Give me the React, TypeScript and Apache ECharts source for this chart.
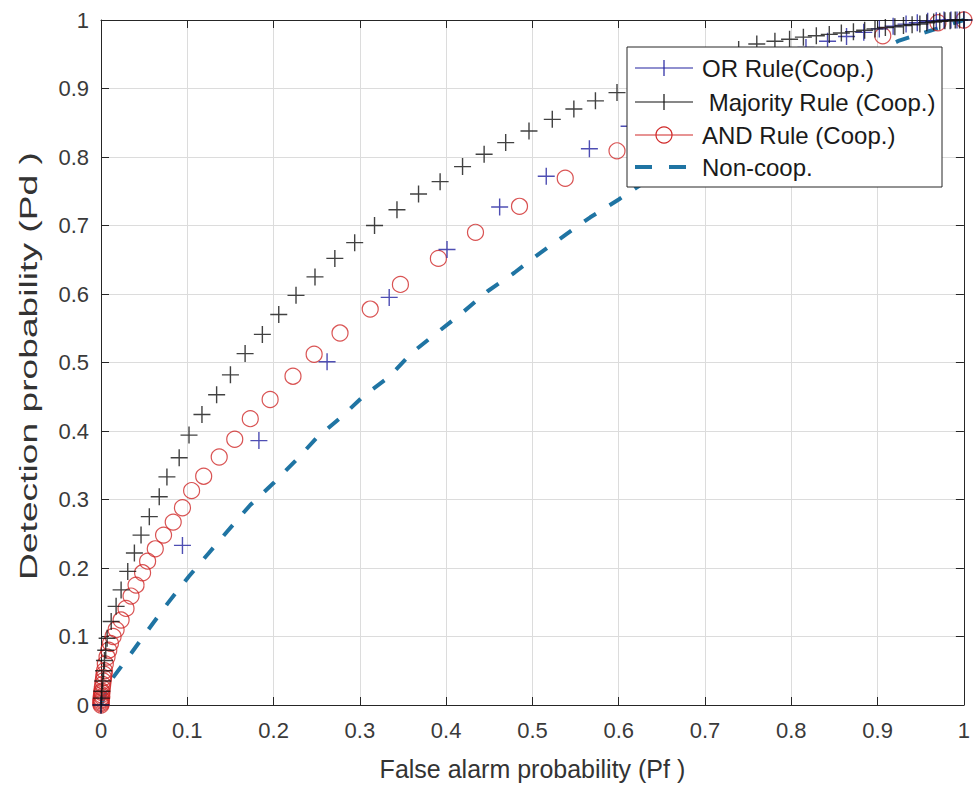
import React, { useEffect, useRef } from "react";
import * as echarts from "echarts";

const xTicks = [0, 0.1, 0.2, 0.3, 0.4, 0.5, 0.6, 0.7, 0.8, 0.9, 1];
const yTicks = [0, 0.1, 0.2, 0.3, 0.4, 0.5, 0.6, 0.7, 0.8, 0.9, 1];

const xTitle = "False alarm probability (Pf )";
const yTitle = "Detection probability (Pd )";
const legendNames = ["OR Rule(Coop.)", " Majority Rule (Coop.)", "AND Rule (Coop.)", "Non-coop."];

// OR rule (cooperative) [Pf, Pd]
const orRule: [number, number][] = [
  [0, 0], [0.0944, 0.233], [0.183, 0.386], [0.262, 0.501], [0.334, 0.595], [0.401, 0.665],
  [0.462, 0.727], [0.516, 0.772], [0.566, 0.812], [0.612, 0.845], [0.654, 0.873], [0.693, 0.897],
  [0.728, 0.917], [0.761, 0.934], [0.79, 0.948], [0.817, 0.96], [0.842, 0.969], [0.864, 0.976],
  [0.884, 0.982], [0.902, 0.987], [0.918, 0.991], [0.933, 0.994], [0.946, 0.996], [0.958, 0.998],
  [0.968, 0.999], [0.977, 1], [0.985, 1], [0.992, 1], [1, 1],
];

// Majority rule (cooperative)
const majorityRule: [number, number][] = [
  [0, 0], [0.0005, 0.01], [0.001, 0.02], [0.002, 0.035], [0.003, 0.05], [0.004, 0.065],
  [0.0055, 0.08], [0.0071, 0.0975], [0.0118, 0.122], [0.0175, 0.144], [0.0233, 0.168],
  [0.031, 0.195], [0.0387, 0.222], [0.0464, 0.248], [0.056, 0.275], [0.0675, 0.304],
  [0.0764, 0.333], [0.0906, 0.361], [0.102, 0.394], [0.117, 0.424], [0.134, 0.453],
  [0.15, 0.482], [0.167, 0.513], [0.187, 0.541], [0.206, 0.57], [0.226, 0.598], [0.248, 0.625],
  [0.271, 0.652], [0.294, 0.675], [0.317, 0.7], [0.343, 0.723], [0.368, 0.746], [0.393, 0.764],
  [0.419, 0.786], [0.444, 0.804], [0.469, 0.821], [0.496, 0.838], [0.523, 0.855], [0.548, 0.87],
  [0.573, 0.882], [0.598, 0.894], [0.623, 0.906], [0.648, 0.917], [0.672, 0.928], [0.695, 0.938],
  [0.717, 0.947], [0.739, 0.957], [0.76, 0.965], [0.781, 0.969], [0.798, 0.972], [0.814, 0.975],
  [0.829, 0.977], [0.844, 0.979], [0.858, 0.981], [0.872, 0.983], [0.885, 0.985], [0.897, 0.987],
  [0.909, 0.989], [0.92, 0.99], [0.93, 0.992], [0.94, 0.993], [0.949, 0.994], [0.957, 0.996],
  [0.965, 0.997], [0.972, 0.998], [0.978, 0.999], [0.984, 0.999], [0.99, 1], [0.995, 1], [1, 1],
];

// AND rule (cooperative)
const andRule: [number, number][] = [
  [0, 0], [0, 0.002], [0, 0.004], [0, 0.006], [0.0005, 0.008], [0, 0.01], [0.001, 0.012],
  [0.0005, 0.015], [0.001, 0.018], [0.001, 0.02], [0.0015, 0.025], [0.002, 0.03], [0.0025, 0.035],
  [0.003, 0.04], [0.0035, 0.045], [0.004, 0.05], [0.005, 0.06], [0.007, 0.07], [0.009, 0.08],
  [0.011, 0.09], [0.014, 0.1], [0.0175, 0.11], [0.0233, 0.124], [0.029, 0.141], [0.0348, 0.159],
  [0.0406, 0.175], [0.0482, 0.193], [0.054, 0.21], [0.0629, 0.228], [0.0725, 0.248], [0.0837, 0.267],
  [0.0944, 0.288], [0.105, 0.313], [0.119, 0.334], [0.137, 0.362], [0.155, 0.388], [0.173, 0.418],
  [0.196, 0.446], [0.2225, 0.48], [0.247, 0.512], [0.277, 0.543], [0.312, 0.578], [0.347, 0.614],
  [0.391, 0.652], [0.434, 0.69], [0.485, 0.728], [0.538, 0.769], [0.598, 0.809], [0.665, 0.85],
  [0.74, 0.895], [0.82, 0.94], [0.906, 0.977], [0.97, 0.996], [1, 1],
];

// Non-cooperative
const nonCoop: [number, number][] = [
  [0, 0], [0.0118, 0.0365], [0.035, 0.0756], [0.056, 0.112], [0.077, 0.148], [0.102, 0.188],
  [0.125, 0.222], [0.146, 0.253], [0.173, 0.292], [0.2, 0.324], [0.225, 0.356], [0.25, 0.39],
  [0.279, 0.421], [0.306, 0.453], [0.333, 0.478], [0.36, 0.514], [0.389, 0.543], [0.42, 0.574],
  [0.448, 0.604], [0.479, 0.631], [0.508, 0.659], [0.539, 0.687], [0.567, 0.712], [0.6, 0.738],
  [0.65, 0.78], [0.7, 0.82], [0.75, 0.855], [0.8, 0.89], [0.85, 0.925], [0.9, 0.955],
  [0.925, 0.97], [0.95, 0.98], [1, 1],
];

const BLUE = "#2222a0";
const BLACK = "#111111";
const RED = "#d02828";
const TEAL = "#1f74a3";
const AXIS = "#262626";
const FONT = "'Liberation Sans', Arial, sans-serif";
const PLUS = "path://M5,0L5,10M0,5L10,5";

export default function App() {
  const ref = useRef<HTMLDivElement>(null);
  useEffect(() => {
    document.body.style.margin = "0";
    const chart = echarts.init(ref.current!, undefined, { renderer: "svg" });
    const gridL = 101, gridT = 20, gridR = 5, gridB = 90;
    const axisCommon = {
      type: "value" as const,
      min: 0,
      max: 1,
      interval: 0.1,
      axisLine: { show: true, onZero: false, lineStyle: { color: AXIS, width: 1 } },
      axisTick: { show: true, inside: true, length: 8, lineStyle: { color: AXIS, width: 1 } },
    };
    const fmt = (v: number) => String(Math.round(v * 10) / 10);
    // legend geometry
    const lx = 627, ly = 47, lw = 315, lh = 140;
    const rows = [68, 102, 135, 167];
    const lineX1 = 635, lineX2 = 693, mk = 664;
    const g: any[] = [
      { type: "rect", shape: { x: lx, y: ly, width: lw, height: lh }, style: { fill: "#fff", stroke: AXIS, lineWidth: 1 }, z: 100 },
      { type: "line", shape: { x1: lineX1, y1: rows[0], x2: lineX2, y2: rows[0] }, style: { stroke: BLUE, lineWidth: 1.2 }, z: 101 },
      { type: "line", shape: { x1: mk, y1: rows[0] - 8, x2: mk, y2: rows[0] + 8 }, style: { stroke: BLUE, lineWidth: 1.2 }, z: 101 },
      { type: "line", shape: { x1: lineX1, y1: rows[1], x2: lineX2, y2: rows[1] }, style: { stroke: BLACK, lineWidth: 1.2 }, z: 101 },
      { type: "line", shape: { x1: mk, y1: rows[1] - 8, x2: mk, y2: rows[1] + 8 }, style: { stroke: BLACK, lineWidth: 1.2 }, z: 101 },
      { type: "line", shape: { x1: lineX1, y1: rows[2], x2: lineX2, y2: rows[2] }, style: { stroke: RED, lineWidth: 1.2 }, z: 101 },
      { type: "circle", shape: { cx: mk, cy: rows[2], r: 8 }, style: { fill: "none", stroke: RED, lineWidth: 1.2 }, z: 101 },
      { type: "line", shape: { x1: lineX1, y1: rows[3], x2: 652, y2: rows[3] }, style: { stroke: TEAL, lineWidth: 4 }, z: 101 },
      { type: "line", shape: { x1: 669, y1: rows[3], x2: 686, y2: rows[3] }, style: { stroke: TEAL, lineWidth: 4 }, z: 101 },
      // y-axis title (stretched along its length as in the reference)
      {
        type: "text",
        x: 29,
        y: 366,
        rotation: Math.PI / 2,
        scaleX: 1.55,
        scaleY: 1,
        style: { text: yTitle, fill: "#333", font: `24px ${FONT}`, textAlign: "center", textVerticalAlign: "middle" },
        z: 50,
      },
    ];
    const textX = [702, 702, 702, 702];
    legendNames.forEach((t, i) => {
      g.push({
        type: "text",
        x: textX[i],
        y: rows[i],
        style: { text: t, fill: "#1a1a1a", font: `24px ${FONT}`, textVerticalAlign: "middle", textAlign: "left" },
        z: 102,
      });
    });

    chart.setOption({
      animation: false,
      backgroundColor: "#fff",
      grid: { left: gridL, top: gridT, right: gridR, bottom: gridB, containLabel: false },
      xAxis: [
        {
          ...axisCommon,
          position: "bottom",
          axisLabel: { show: true, fontSize: 22, color: "#3a3a3a", fontFamily: FONT, margin: 14, formatter: fmt },
          splitLine: { show: true, lineStyle: { color: "#dcdcdc", width: 1 } },
          name: xTitle,
          nameLocation: "middle",
          nameGap: 51,
          nameTextStyle: { fontSize: 25, color: "#333", fontFamily: FONT },
        },
        {
          ...axisCommon,
          position: "top",
          axisLabel: { show: false },
          splitLine: { show: false },
        },
      ],
      yAxis: [
        {
          ...axisCommon,
          position: "left",
          axisLabel: { show: true, fontSize: 22, color: "#3a3a3a", fontFamily: FONT, margin: 12, formatter: fmt },
          splitLine: { show: true, lineStyle: { color: "#dcdcdc", width: 1 } },
        },
        {
          ...axisCommon,
          position: "right",
          axisLabel: { show: false },
          splitLine: { show: false },
        },
      ],
      series: [
        {
          name: legendNames[3],
          type: "line",
          data: nonCoop,
          showSymbol: false,
          symbol: "none",
          lineStyle: { color: TEAL, width: 4, type: [14, 16] },
          z: 2,
        },
        {
          name: legendNames[2],
          type: "scatter",
          data: andRule,
          symbol: "circle",
          symbolSize: 16,
          itemStyle: { color: "transparent", borderColor: RED, borderWidth: 1.2 },
          z: 3,
        },
        {
          name: legendNames[0],
          type: "scatter",
          data: orRule,
          symbol: PLUS,
          symbolSize: 17,
          itemStyle: { color: "transparent", borderColor: BLUE, borderWidth: 1.4 },
          z: 4,
        },
        {
          name: legendNames[1],
          type: "scatter",
          data: majorityRule,
          symbol: PLUS,
          symbolSize: 17,
          itemStyle: { color: "transparent", borderColor: BLACK, borderWidth: 1.4 },
          z: 5,
        },
      ],
      graphic: g,
    });
    return () => chart.dispose();
  }, []);
  return <div ref={ref} style={{ position: "absolute", left: 0, top: 0, width: 973, height: 795 }} />;
}
